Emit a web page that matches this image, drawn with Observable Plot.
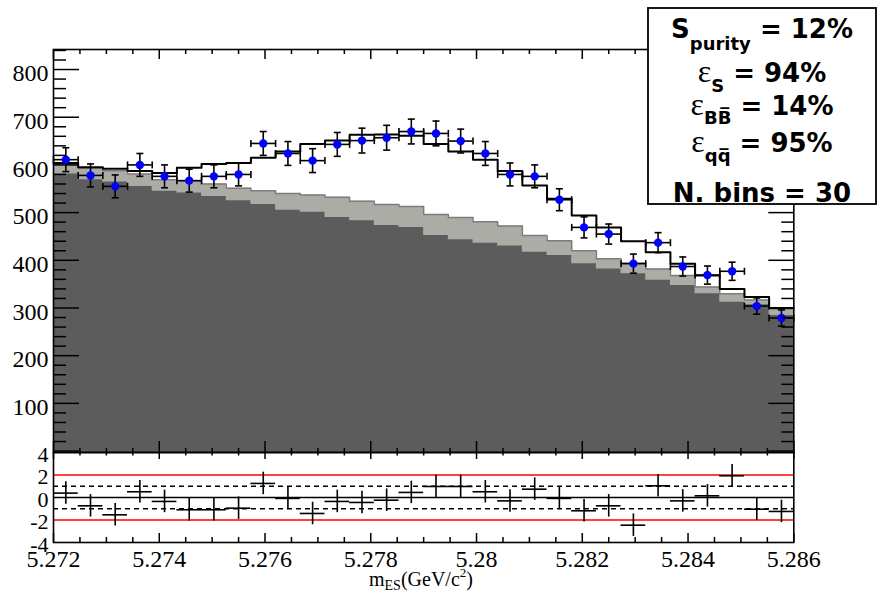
<!DOCTYPE html>
<html>
<head>
<meta charset="utf-8">
<script src="https://cdn.jsdelivr.net/npm/d3@7"></script>
<script src="https://cdn.jsdelivr.net/npm/@observablehq/plot@0.6"></script>
<style>
  html, body { margin: 0; padding: 0; background: #fff; }
  #wrap { position: relative; width: 891px; height: 593px; overflow: hidden; background: #fff; }
  #wrap > svg { position: absolute; left: 0; top: 0; }
  #wrap svg text { font-family: 'Liberation Serif', 'Times New Roman', serif; }
  #wrap svg text.sans { font-family: 'DejaVu Sans', sans-serif; }
</style>
</head>
<body>
<div id="wrap"></div>
<script>
// ---------------- data ----------------
const xDomain = [5.272, 5.286];
const nBins = 30;
// observed events per bin
const dataCounts = [611, 578, 555, 600, 576, 567, 576, 580, 645, 624,
                    609, 643, 651, 657, 670, 666, 650, 624, 580, 576,
                    527, 469, 455, 393, 437, 387, 369, 377, 304, 279];
const dataErr = [25, 24, 24, 24, 24, 24, 24, 24, 25, 25,
                 25, 25, 26, 26, 26, 26, 25, 25, 24, 24,
                 23, 22, 21, 20, 21, 20, 19, 19, 17, 17];
// total fit (signal + backgrounds)
const fitTotal = [604, 595, 592, 587, 583, 594, 602, 604, 615, 628,
                  644, 651, 663, 664, 661, 644, 628, 611, 587, 557,
                  529, 494, 469, 440, 417, 393, 368, 340, 323, 300];
// total background (light grey top)
const bkgTotal = [601, 593, 588, 581, 569, 567, 560, 551, 546, 540,
                  537, 532, 524, 517, 513, 496, 490, 481, 472, 452,
                  441, 420, 403, 394, 382, 368, 344, 330, 317, 298];
// continuum background (dark grey top)
const bkgContinuum = [581, 569, 564, 555, 545, 541, 534, 525, 517, 505,
                      501, 490, 483, 473, 469, 452, 443, 436, 430, 417,
                      410, 393, 382, 372, 358, 347, 330, 312, 307, 284];
// pulls
const pulls = [0.39, -0.74, -1.54, 0.51, -0.35, -1.09, -1.09, -0.95, 1.25, -0.08,
               -1.42, -0.35, -0.44, -0.24, 0.45, 0.98, 0.98, 0.51, -0.30, 0.74,
               -0.08, -1.18, -0.74, -2.46, 1.04, -0.30, 0.15, 1.93, -1.04, -1.24];
const pullErr = 1;

// tick labels / axis ranges
const yTopDomain = [-3, 842];
const yTopLabels = [100, 200, 300, 400, 500, 600, 700, 800];
const yPullDomain = [-4, 4];
const yPullLabels = [4, 2, 0, -2, -4];
const xLabels = [5.272, 5.274, 5.276, 5.278, 5.28, 5.282, 5.284, 5.286];
const pullLinesRed = [2, -2];
const pullLinesDash = [1, -1];

const boxLines = [
  {main: "S", sub: "purity", rest: " = 12%", eps: false},
  {main: "\u03B5", sub: "S", rest: " = 94%", eps: true},
  {main: "\u03B5", sub: "BB\u0305", rest: " = 14%", eps: true},
  {main: "\u03B5", sub: "qq\u0305", rest: " = 95%", eps: true},
  {main: "N. bins = 30", sub: null, rest: "", eps: false}
];

// ---------------- layout ----------------
const W = 891, H = 593;
const L = 53, R = 793.3;
const topT = 49, topB = 452, pullB = 542;
const frameW = R - L;
const topH = topB - topT, pullH = pullB - topB;
const darkGrey = "#5c5c5c", lightGrey = "#acaca6";
const serif = "'Liberation Serif', 'Times New Roman', serif";

// ---------------- derived rows ----------------
const binW = (xDomain[1] - xDomain[0]) / nBins;
const rows = d3.range(nBins).map(i => {
  const x0 = xDomain[0] + i * binW;
  return {x0, x1: x0 + binW, xc: x0 + binW / 2,
          data: dataCounts[i], err: dataErr[i], fit: fitTotal[i],
          bkg: bkgTotal[i], cont: bkgContinuum[i], pull: pulls[i]};
});
const stepRows = rows.map(r => ({x: r.x0, fit: r.fit, bkg: r.bkg, cont: r.cont}))
  .concat([{x: xDomain[1], fit: fitTotal[nBins - 1], bkg: bkgTotal[nBins - 1], cont: bkgContinuum[nBins - 1]}]);

const xMajor = xLabels;
const xMinor = d3.range(0, 29).map(i => xDomain[0] + i * 0.0005).filter(v => !xMajor.some(m => Math.abs(m - v) < 1e-9));
const yMajor = d3.range(0, 900, 100).filter(v => v <= yTopDomain[1]);
const yMinor = d3.range(0, yTopDomain[1] + 1, 20).filter(v => v % 100 !== 0);

const hcap = {draw(ctx, size) { const w = Math.sqrt(size / Math.PI); ctx.moveTo(-w, 0); ctx.lineTo(w, 0); }};
const vcap = {draw(ctx, size) { const w = Math.sqrt(size / Math.PI); ctx.moveTo(0, -w); ctx.lineTo(0, w); }};

// ---------------- top panel ----------------
const topPlot = Plot.plot({
  width: W, height: H,
  marginLeft: L, marginRight: W - R, marginTop: topT, marginBottom: H - topB,
  x: {domain: xDomain, axis: null},
  y: {domain: yTopDomain},
  style: {background: "transparent", overflow: "visible", fontFamily: serif},
  marks: [
    Plot.areaY(stepRows, {x: "x", y1: yTopDomain[0], y2: "bkg", curve: "step-after", fill: lightGrey}),
    Plot.areaY(stepRows, {x: "x", y1: yTopDomain[0], y2: "cont", curve: "step-after", fill: darkGrey}),
    Plot.lineY(stepRows, {x: "x", y: "bkg", curve: "step-after", stroke: "#7c7c7c", strokeWidth: 1.5}),
    Plot.lineY(stepRows, {x: "x", y: "fit", curve: "step-after", stroke: "#000", strokeWidth: 2}),
    // data error bars
    Plot.ruleX(rows, {x: "xc", y1: d => d.data - d.err, y2: d => d.data + d.err, stroke: "#000", strokeWidth: 1.6}),
    Plot.ruleY(rows, {y: "data", x1: "x0", x2: "x1", stroke: "#000", strokeWidth: 1.6}),
    Plot.dot(rows, {x: "xc", y: d => d.data + d.err, symbol: hcap, r: 3.5, stroke: "#000", strokeWidth: 1.6, fill: "none"}),
    Plot.dot(rows, {x: "xc", y: d => d.data - d.err, symbol: hcap, r: 3.5, stroke: "#000", strokeWidth: 1.6, fill: "none"}),
    Plot.dot(rows, {x: "x0", y: "data", symbol: vcap, r: 3.5, stroke: "#000", strokeWidth: 1.6, fill: "none"}),
    Plot.dot(rows, {x: "x1", y: "data", symbol: vcap, r: 3.5, stroke: "#000", strokeWidth: 1.6, fill: "none"}),
    Plot.dot(rows, {x: "xc", y: "data", r: 4.2, fill: "#0000ff", stroke: "none"}),
    // ticks (inside, ROOT style)
    Plot.tickY(yMajor, {y: d => d, insetRight: frameW - 26, stroke: "#000", strokeWidth: 1.5}),
    Plot.tickY(yMinor, {y: d => d, insetRight: frameW - 13, stroke: "#000", strokeWidth: 1.5}),
    Plot.tickY(yMajor, {y: d => d, insetLeft: frameW - 25, stroke: "#000", strokeWidth: 1.5}),
    Plot.tickY(yMinor, {y: d => d, insetLeft: frameW - 12, stroke: "#000", strokeWidth: 1.5}),
    Plot.tickX(xMajor, {x: d => d, insetBottom: topH - 10, stroke: "#000", strokeWidth: 1.5}),
    Plot.tickX(xMinor, {x: d => d, insetBottom: topH - 5, stroke: "#000", strokeWidth: 1.5}),
    Plot.tickX(xMajor, {x: d => d, insetTop: topH - 11, stroke: "#000", strokeWidth: 1.5}),
    Plot.tickX(xMinor, {x: d => d, insetTop: topH - 4, stroke: "#000", strokeWidth: 1.5}),
    Plot.frame({stroke: "#000", strokeWidth: 1.6}),
    Plot.axisY(yTopLabels, {anchor: "left", tickSize: 0, tickPadding: 5, fontSize: 24, dy: 4,
      fontFamily: serif, tickFormat: d => String(d), fill: "#000", label: null})
  ]
});

// ---------------- pull panel ----------------
const pullPlot = Plot.plot({
  width: W, height: H,
  marginLeft: L, marginRight: W - R, marginTop: topB, marginBottom: H - pullB,
  x: {domain: xDomain},
  y: {domain: yPullDomain},
  style: {background: "transparent", overflow: "visible", fontFamily: serif},
  marks: [
    Plot.ruleY(pullLinesRed, {y: d => d, stroke: "#ff0000", strokeWidth: 1.6}),
    Plot.ruleY(pullLinesDash, {y: d => d, stroke: "#000", strokeWidth: 1.4, strokeDasharray: "5,4"}),
    Plot.ruleY([0], {stroke: "#000", strokeWidth: 1.6}),
    Plot.ruleX(rows, {x: "xc", y1: d => d.pull - pullErr, y2: d => d.pull + pullErr, stroke: "#000", strokeWidth: 1.6}),
    Plot.ruleY(rows, {y: "pull", x1: "x0", x2: "x1", stroke: "#000", strokeWidth: 1.6}),
    Plot.tickX(xMajor, {x: d => d, insetTop: pullH - 9, stroke: "#000", strokeWidth: 1.5}),
    Plot.tickX(xMinor, {x: d => d, insetTop: pullH - 5, stroke: "#000", strokeWidth: 1.5}),
    Plot.tickX(xMajor, {x: d => d, insetBottom: pullH - 7, stroke: "#000", strokeWidth: 1.5}),
    Plot.tickX(xMinor, {x: d => d, insetBottom: pullH - 3.5, stroke: "#000", strokeWidth: 1.5}),
    Plot.frame({stroke: "#000", strokeWidth: 1.6}),
    Plot.axisY(yPullLabels, {anchor: "left", tickSize: 0, tickPadding: 5, fontSize: 22, dy: 2,
      fontFamily: serif, tickFormat: d => String(d), fill: "#000", label: null}),
    Plot.axisX(xLabels, {anchor: "bottom", tickSize: 0, tickPadding: 7, fontSize: 24,
      fontFamily: serif, tickFormat: d => String(d), fill: "#000", label: null})
  ]
});

const wrap = document.getElementById("wrap");
wrap.appendChild(topPlot);
wrap.appendChild(pullPlot);

// ---------------- overlay: stats box and x title ----------------
const ov = d3.create("svg").attr("width", W).attr("height", H).style("overflow", "visible");
// x-axis title
const xt = ov.append("text").attr("x", 369).attr("y", 586)
  .attr("font-family", serif).attr("font-size", 20).attr("fill", "#000");
xt.append("tspan").text("m");
xt.append("tspan").attr("font-size", 14).attr("dy", 4).text("ES");
xt.append("tspan").attr("dy", -4).text("(GeV/c");
xt.append("tspan").attr("font-size", 13).attr("dy", -9).text("2");
xt.append("tspan").attr("dy", 9).text(")");

// stats box
const bx = {x: 648, y: 8, w: 228, h: 196};
ov.append("rect").attr("x", bx.x).attr("y", bx.y).attr("width", bx.w).attr("height", bx.h)
  .attr("fill", "#fff").attr("stroke", "#000").attr("stroke-width", 1.8);
const baselines = [38, 82, 115, 152, 202];
const subDy = [12, 10, 9, 10, 0];
const cx = bx.x + bx.w / 2;
boxLines.forEach((ln, i) => {
  const t = ov.append("text").attr("class", "sans").attr("x", cx).attr("y", baselines[i]).attr("text-anchor", "middle")
    .attr("font-weight", "bold").attr("font-size", 26).attr("fill", "#000");
  if (ln.eps) {
    t.append("tspan").style("font-family", serif).attr("font-weight", "normal").attr("font-size", 32).text(ln.main);
  } else {
    t.append("tspan").text(ln.main);
  }
  if (ln.sub) {
    t.append("tspan").attr("font-size", 18).attr("dy", subDy[i]).text(ln.sub);
    t.append("tspan").attr("dy", -subDy[i]).text(ln.rest);
  }
});
wrap.appendChild(ov.node());
</script>
</body>
</html>
